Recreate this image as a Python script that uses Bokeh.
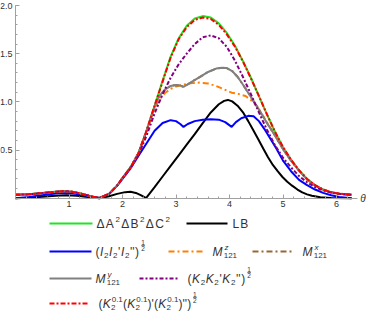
from bokeh.plotting import figure
from bokeh.models import Range1d, FixedTicker, Label
from bokeh.layouts import column
from bokeh.embed import file_html
from bokeh.resources import INLINE
from bokeh.core.properties import value

# ---------------- data ----------------
theta_main = [0, 0.25, 0.5, 0.75, 0.9, 1.05, 1.25, 1.4, 1.57, 1.75, 1.9, 2.0, 2.15, 2.3, 2.45,
              2.6, 2.75, 2.9, 3.05, 3.2, 3.35, 3.5, 3.65, 3.8, 3.95, 4.1, 4.25, 4.4, 4.55, 4.7,
              4.85, 5.0, 5.15, 5.3, 5.45, 5.6, 5.75, 5.9, 6.05, 6.283]
green = [0.035, 0.04, 0.053, 0.067, 0.072, 0.068, 0.045, 0.02, 0.003, 0.045, 0.13, 0.21, 0.32, 0.47, 0.70,
         0.96, 1.22, 1.47, 1.66, 1.79, 1.865, 1.89, 1.875, 1.815, 1.715, 1.585, 1.425, 1.25, 1.06, 0.87,
         0.69, 0.53, 0.40, 0.29, 0.20, 0.135, 0.09, 0.062, 0.047, 0.035]
red = [0.035, 0.04, 0.053, 0.067, 0.072, 0.068, 0.045, 0.02, 0.003, 0.045, 0.13, 0.21, 0.32, 0.47, 0.70,
       0.96, 1.21, 1.46, 1.65, 1.775, 1.85, 1.875, 1.86, 1.80, 1.70, 1.575, 1.42, 1.245, 1.06, 0.87,
       0.69, 0.53, 0.40, 0.29, 0.20, 0.135, 0.09, 0.062, 0.047, 0.035]
purple = [0.035, 0.04, 0.053, 0.067, 0.072, 0.068, 0.045, 0.02, 0.003, 0.045, 0.13, 0.205, 0.31, 0.45, 0.65,
          0.88, 1.08, 1.25, 1.39, 1.50, 1.60, 1.67, 1.69, 1.66, 1.57, 1.43, 1.26, 1.08, 0.89, 0.71,
          0.55, 0.42, 0.32, 0.23, 0.165, 0.115, 0.08, 0.058, 0.045, 0.035]

theta_gray = [0, 0.25, 0.5, 0.75, 0.9, 1.05, 1.25, 1.4, 1.57, 1.75, 1.9, 2.0, 2.15, 2.3, 2.45,
              2.55, 2.62, 2.7, 2.8, 2.9, 3.0, 3.08, 3.14, 3.2, 3.3, 3.45, 3.6, 3.75, 3.86, 3.95,
              4.05, 4.15, 4.25, 4.4, 4.55, 4.7, 4.85, 5.0, 5.15, 5.3, 5.45, 5.6, 5.75, 5.9, 6.05, 6.283]
gray = [0.035, 0.04, 0.053, 0.067, 0.072, 0.068, 0.045, 0.02, 0.003, 0.045, 0.13, 0.21, 0.32, 0.47, 0.70,
        0.87, 0.98, 1.07, 1.13, 1.165, 1.175, 1.17, 1.155, 1.175, 1.21, 1.26, 1.31, 1.345, 1.355, 1.35,
        1.32, 1.26, 1.18, 1.05, 0.92, 0.78, 0.65, 0.51, 0.39, 0.285, 0.195, 0.132, 0.088, 0.061, 0.046, 0.035]
brown = [0.035, 0.04, 0.053, 0.067, 0.072, 0.068, 0.045, 0.02, 0.003, 0.045, 0.13, 0.21, 0.32, 0.47, 0.70,
         0.87, 0.98, 1.07, 1.13, 1.165, 1.175, 1.17, 1.155, 1.175, 1.21, 1.26, 1.31, 1.345, 1.355, 1.35,
         1.32, 1.26, 1.18, 1.05, 0.92, 0.78, 0.65, 0.51, 0.39, 0.285, 0.195, 0.132, 0.088, 0.061, 0.046, 0.035]

theta_orange = [0, 0.25, 0.5, 0.75, 0.9, 1.05, 1.25, 1.4, 1.57, 1.75, 1.9, 2.0, 2.15, 2.3, 2.45,
                2.55, 2.62, 2.7, 2.8, 2.9, 3.0, 3.15, 3.3, 3.45, 3.6, 3.75, 3.9, 4.04, 4.15, 4.3,
                4.42, 4.52, 4.62, 4.72, 4.85, 5.0, 5.15, 5.3, 5.45, 5.6, 5.75, 5.9, 6.05, 6.283]
orange = [0.035, 0.04, 0.053, 0.067, 0.072, 0.068, 0.045, 0.02, 0.003, 0.045, 0.13, 0.21, 0.32, 0.47, 0.70,
          0.86, 0.95, 1.03, 1.095, 1.135, 1.16, 1.18, 1.195, 1.20, 1.19, 1.165, 1.13, 1.095, 1.085, 1.06,
          1.01, 0.95, 0.86, 0.77, 0.65, 0.51, 0.39, 0.285, 0.195, 0.132, 0.088, 0.061, 0.046, 0.035]

theta_blue = [0, 0.25, 0.5, 0.75, 0.9, 1.05, 1.25, 1.4, 1.57, 1.75, 1.9, 2.0, 2.15, 2.3, 2.45,
              2.6, 2.75, 2.9, 3.0, 3.08, 3.14, 3.22, 3.35, 3.5, 3.65, 3.8, 3.92, 4.04, 4.12, 4.22,
              4.35, 4.45, 4.55, 4.65, 4.75, 4.87, 5.0, 5.15, 5.3, 5.45, 5.6, 5.75, 5.9, 6.05, 6.283]
blue = [0, 0.012, 0.03, 0.048, 0.054, 0.052, 0.036, 0.016, 0.0, 0.045, 0.13, 0.2, 0.31, 0.44, 0.57,
        0.70, 0.78, 0.81, 0.80, 0.77, 0.74, 0.77, 0.80, 0.815, 0.82, 0.815, 0.79, 0.74, 0.79, 0.83,
        0.855, 0.85, 0.80, 0.72, 0.63, 0.52, 0.39, 0.28, 0.19, 0.135, 0.09, 0.055, 0.03, 0.012, 0.0]

theta_black = [0, 0.25, 0.5, 0.75, 0.95, 1.15, 1.35, 1.57, 1.75, 1.9, 2.05, 2.15, 2.25, 2.35, 2.44,
               2.6, 2.75, 2.9, 3.05, 3.2, 3.35, 3.5, 3.65, 3.8, 3.9, 3.97, 4.05, 4.15, 4.26, 4.35,
               4.44, 4.54, 4.63, 4.72, 4.81, 4.9, 4.99, 5.08, 5.17, 5.27, 5.36, 5.45, 5.54, 5.7, 5.9, 6.283]
black = [0, 0.005, 0.015, 0.026, 0.03, 0.026, 0.012, 0.0, 0.02, 0.045, 0.063, 0.066, 0.055, 0.03, 0.0,
         0.115, 0.225, 0.335, 0.445, 0.555, 0.665, 0.78, 0.89, 0.975, 1.01, 1.02, 1.005, 0.96, 0.885, 0.80,
         0.71, 0.61, 0.515, 0.425, 0.345, 0.28, 0.22, 0.17, 0.13, 0.09, 0.06, 0.04, 0.025, 0.01, 0.003, 0.0]

x_ticks = [1, 2, 3, 4, 5, 6]
x_tick_labels = ["1", "2", "3", "4", "5", "6"]
y_ticks = [0.5, 1.0, 1.5, 2.0]
y_tick_labels = ["0.5", "1.0", "1.5", "2.0"]
x_axis_label = "θ"

# ---------------- styles ----------------
FONT = "Liberation Sans"
TXT = "#333333"
AX = "#a0a0a0"
C_GREEN, C_BLACK, C_BLUE = "#22e322", "#000000", "#0000ff"
C_ORANGE, C_BROWN, C_GRAY = "#ff8000", "#996633", "#808080"
C_PURPLE, C_RED = "#800080", "#ff0000"
D_ORANGE = "6 3 2 3"
D_BROWN = "6 3 2 3"
D_PURPLE = "4 2 2 2"
D_RED = "5 2 2 2"

W = 366
H_PLOT = 210
H_LEG = 101

# ---------------- plot ----------------
x_axis_end = 6.39
sx = 53.5
x0 = -15 / sx
sy = 96.35
y1 = 2 + 5 / sy
p = figure(width=W, height=H_PLOT, output_backend="svg", toolbar_location=None,
           x_range=Range1d(x0, x0 + W / sx), y_range=Range1d(y1 - H_PLOT / sy, y1),
           min_border=0, min_border_left=0, min_border_right=0, min_border_top=0, min_border_bottom=0)
p.outline_line_color = None
p.grid.visible = False
p.background_fill_color = "white"
p.border_fill_color = "white"

for ax in (p.xaxis[0], p.yaxis[0]):
    ax.fixed_location = 0
    ax.axis_line_color = AX
    ax.major_tick_line_color = AX
    ax.minor_tick_line_color = AX
    ax.major_label_text_color = TXT
    ax.major_label_text_font = FONT
    ax.major_label_text_font_size = "9px"
    ax.major_tick_in = 4
    ax.major_tick_out = 0
    ax.minor_tick_in = 2
    ax.minor_tick_out = 0
    ax.major_label_standoff = 3

p.xaxis[0].ticker = FixedTicker(ticks=x_ticks, minor_ticks=[i * 0.2 for i in range(1, 32)])
p.xaxis[0].major_label_overrides = {t: s for t, s in zip(x_ticks, x_tick_labels)}
p.xaxis[0].bounds = (0, x_axis_end)
p.yaxis[0].ticker = FixedTicker(ticks=y_ticks, minor_ticks=[i * 0.1 for i in range(1, 21)])
p.yaxis[0].major_label_overrides = {t: s for t, s in zip(y_ticks, y_tick_labels)}
p.yaxis[0].bounds = (0, 2.0)

p.line(theta_main, green, line_color=C_GREEN, line_width=2)
p.line(theta_black, black, line_color=C_BLACK, line_width=2)
p.line(theta_blue, blue, line_color=C_BLUE, line_width=2)
p.line(theta_orange, orange, line_color=C_ORANGE, line_width=2, line_dash=D_ORANGE)
p.line(theta_gray, brown, line_color=C_BROWN, line_width=2, line_dash=D_BROWN)
p.line(theta_gray, gray, line_color=C_GRAY, line_width=2)
p.line(theta_main, purple, line_color=C_PURPLE, line_width=2, line_dash=D_PURPLE)
p.line(theta_main, red, line_color=C_RED, line_width=2, line_dash=D_RED)

p.add_layout(Label(x=x_axis_end, y=0, text=x_axis_label, x_offset=3, y_offset=0,
                   text_font=FONT, text_font_size="10px", text_font_style="italic",
                   text_color=TXT, text_baseline="middle", text_align="left"))

# ---------------- legend (separate figure, pixel coordinates) ----------------
q = figure(width=W, height=H_LEG, output_backend="svg", toolbar_location=None,
           x_range=Range1d(0, W), y_range=Range1d(H_LEG, 0),
           min_border=0, min_border_left=0, min_border_right=0, min_border_top=0, min_border_bottom=0)
q.outline_line_color = None
q.grid.visible = False
q.axis.visible = False

AW = {'(': 333, ')': 333, 'I': 278, '2': 556, "'": 191, 'K': 667, 'M': 833, '1': 556, '0': 556,
      '.': 278, 'z': 500, 'x': 500, 'y': 500, 'A': 667, 'B': 667, 'C': 722, 'Δ': 668, 'L': 556}
FS = 12
SS = 8
GAP = 0.6


def tw(s, sz):
    return sum(AW.get(c, 556) for c in s) * sz / 1000.0


def put(x, y, s, sz, italic=False):
    q.text(x=[x], y=[y], text=[s], text_font=value(FONT), text_font_size=f"{sz}px",
           text_font_style="italic" if italic else "normal", text_baseline="middle",
           text_align="left", text_color=TXT)
    return x + tw(s, sz)


def draw_label(x, y, tokens, gap=GAP):
    for tok in tokens:
        kind = tok[0]
        if kind == "t":
            x = put(x, y, tok[1], FS, tok[2] if len(tok) > 2 else False) + gap
        elif kind == "sup":
            x = put(x + 0.3, y - 4.5, tok[1], SS) + gap
        elif kind == "sub":
            x = put(x, y + 3.5, tok[1], SS) + gap
        elif kind == "ss":
            a = put(x + 0.8, y - 4.5, tok[1], SS, tok[3] if len(tok) > 3 else False)
            b = put(x, y + 3.5, tok[2], SS)
            x = max(a, b) + gap
        elif kind == "frac":
            fx = x + 1.5
            put(fx, y - 9, "1", 6.5)
            put(fx, y - 3, "2", 6.5)
            q.segment(x0=[fx], y0=[y - 6], x1=[fx + 3.8], y1=[y - 6], line_color=TXT, line_width=0.6)
            x = fx + 4


def sample(xa, xb, y, color, dash="solid"):
    q.segment(x0=[xa], y0=[y], x1=[xb], y1=[y], line_color=color, line_width=2, line_dash=dash)


r1, r2, r3, r4 = 13, 41, 68, 93

sample(49, 92, r1, C_GREEN)
draw_label(96, r1, [("t", "Δ"), ("t", "A"), ("sup", "2"), ("t", "Δ"), ("t", "B"), ("sup", "2"),
                    ("t", "Δ"), ("t", "C"), ("sup", "2")], gap=1.3)
sample(186, 227, r1, C_BLACK)
draw_label(232, r1, [("t", "L"), ("t", "B")], gap=1.0)

sample(49, 91, r2, C_BLUE)
draw_label(95, r2, [("t", "("), ("t", "I", True), ("sub", "2"), ("t", "I", True), ("sub", "2"), ("t", "'"),
                    ("t", "I", True), ("sub", "2"), ("t", "''"), ("t", ")"), ("frac",)])
sample(168, 202, r2, C_ORANGE, D_ORANGE)
draw_label(212, r2, [("t", "M", True), ("ss", "z", "121", True)], gap=1.2)
sample(252, 291, r2, C_BROWN, D_BROWN)
draw_label(302, r2, [("t", "M", True), ("ss", "x", "121", True)], gap=1.2)

sample(49, 91, r3, C_GRAY)
draw_label(95, r3, [("t", "M", True), ("ss", "y", "121", True)], gap=1.2)
sample(139, 178, r3, C_PURPLE, D_PURPLE)
draw_label(187, r3, [("t", "("), ("t", "K", True), ("sub", "2"), ("t", "K", True), ("sub", "2"), ("t", "'"),
                     ("t", "K", True), ("sub", "2"), ("t", "''"), ("t", ")"), ("frac",)])

sample(49, 89, r4, C_RED, D_RED)
draw_label(98, r4, [("t", "("), ("t", "K", True), ("ss", "0.1", "2"),
                    ("t", "("), ("t", "K", True), ("ss", "0.1", "2"), ("t", ")'"),
                    ("t", "("), ("t", "K", True), ("ss", "0.1", "2"), ("t", ")''"),
                    ("t", ")"), ("frac",)], gap=0.2)

layout = column(p, q, spacing=0)
open("out.html", "w").write(file_html(layout, INLINE))
